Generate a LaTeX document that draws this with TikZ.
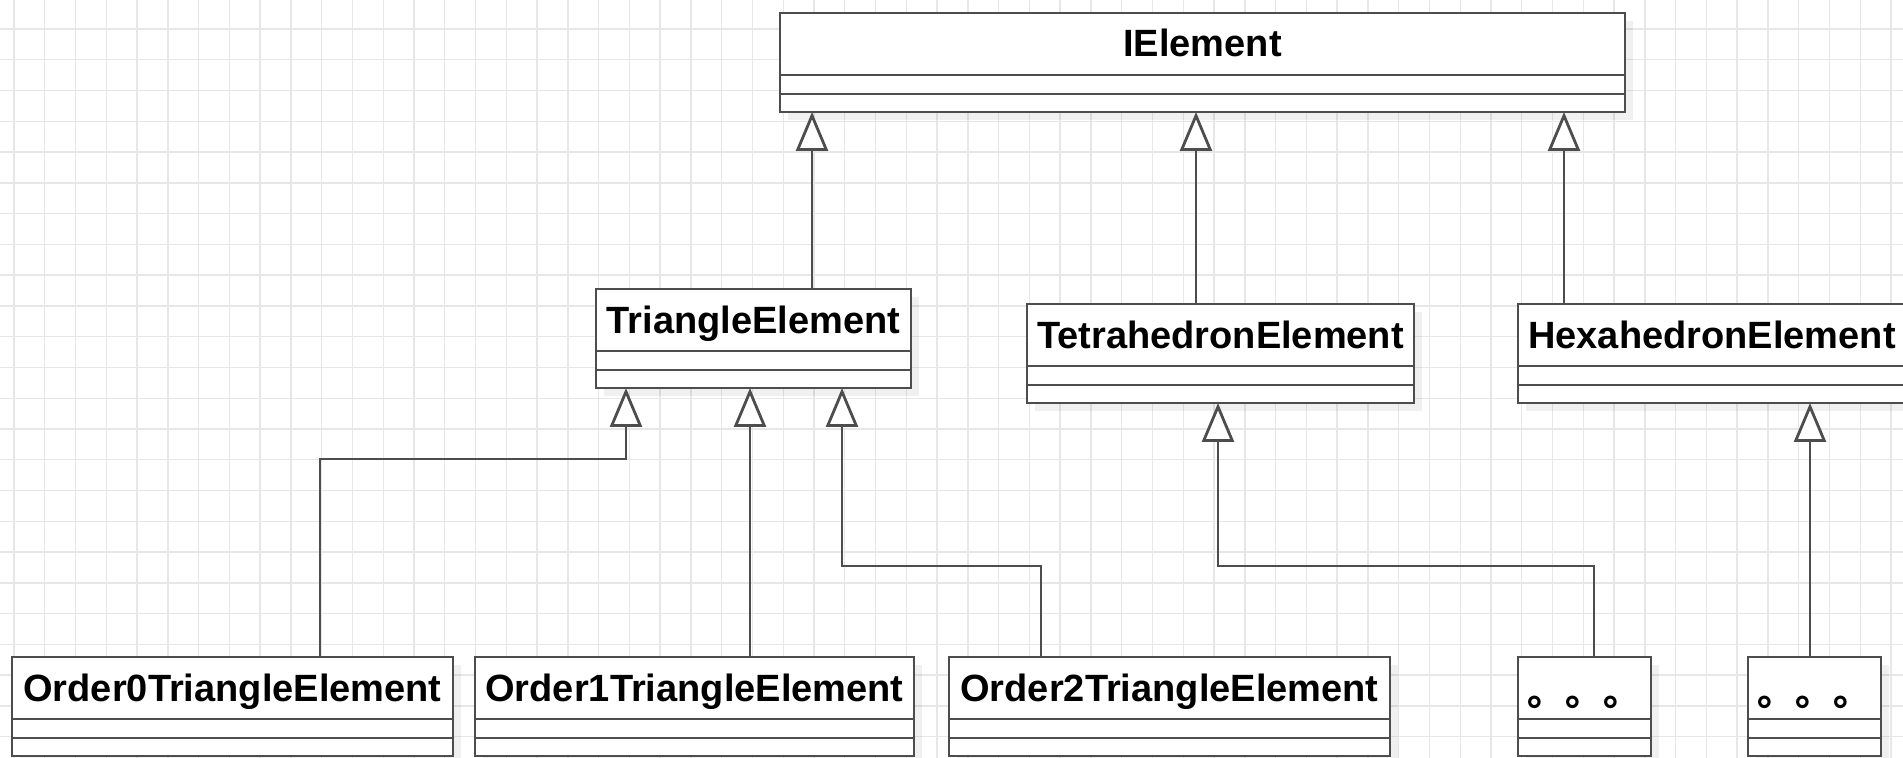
\documentclass[tikz,border=0pt]{standalone}
\usepackage{fontspec}
\setmainfont{Liberation Sans}
\newfontfamily\cjkfont{Noto Sans CJK SC}
\usetikzlibrary{arrows.meta,calc,shadows}
\definecolor{linec}{HTML}{4D4D4D}
\definecolor{gridc}{HTML}{E7E7E7}
\tikzset{
  cls/.style={draw=linec, line width=1.4pt, fill=white, minimum height=49.5pt,
    inner sep=0pt, outer sep=0pt, anchor=north west,
    drop shadow={shadow xshift=4pt, shadow yshift=-4pt, fill=black, opacity=0.06}},
  lab/.style={font=\bfseries\fontsize{19pt}{22pt}\selectfont, anchor=base, inner sep=0pt, text=black},
  dots/.style={font=\cjkfont\bfseries\fontsize{19pt}{22pt}\selectfont, anchor=base, inner sep=0pt, text=black},
  divl/.style={draw=linec, line width=1.4pt},
  inh/.style={draw=linec, line width=1.4pt, -{Triangle[open, fill=white, length=19.5pt, width=16pt]}},
  gridl/.style={draw=gridc, line width=0.7pt}
}
\newcommand\clsrules[1]{%
  \draw[divl] ($(#1.north west)+(0,62)$) -- ($(#1.north east)+(0,62)$);
  \draw[divl] ($(#1.north west)+(0,81)$) -- ($(#1.north east)+(0,81)$);}
\begin{document}
\begin{tikzpicture}[x=0.5pt, y=-0.5pt]
\useasboundingbox (0,0) rectangle (1903,758);
\clip (0,0) rectangle (1903,758);
\fill[white] (0,0) rectangle (1903,758);
% grid
\foreach \i in {0,...,61} \draw[gridl] ({14+30.77*\i},0) -- ({14+30.77*\i},758);
\foreach \j in {0,...,25} \draw[gridl] (0,{-1.77+30.77*\j}) -- (1903,{-1.77+30.77*\j});

% classes
\node[cls, minimum width=422.5pt] (ie) at (780,13) {};
\clsrules{ie}
\node[lab] (ieT) at ($(ie.north)+(0,44)$) {IElement};

\node[cls, minimum width=157.5pt] (tri) at (596,289) {};
\clsrules{tri}
\node[lab] (triT) at ($(tri.north)+(0,45)$) {TriangleElement};

\node[cls, minimum width=193.5pt] (tet) at (1027,304) {};
\clsrules{tet}
\node[lab] (tetT) at ($(tet.north)+(0,45)$) {TetrahedronElement};

\node[cls, minimum width=194pt] (hex) at (1518,304) {};
\clsrules{hex}
\node[lab] (hexT) at ($(hex.north)+(0,45)$) {HexahedronElement};

\node[cls, minimum width=220.5pt] (o0) at (12,657) {};
\clsrules{o0}
\node[lab] (o0T) at ($(o0.north)+(0,45)$) {Order0TriangleElement};

\node[cls, minimum width=219.5pt] (o1) at (475,657) {};
\clsrules{o1}
\node[lab] (o1T) at ($(o1.north)+(0,45)$) {Order1TriangleElement};

\node[cls, minimum width=220.5pt] (o2) at (949,657) {};
\clsrules{o2}
\node[lab] (o2T) at ($(o2.north)+(0,45)$) {Order2TriangleElement};

\node[cls, minimum width=66.5pt] (d1) at (1518,657) {};
\clsrules{d1}
\node[dots] (d1T) at ($(d1.north)+(0,49)$) {。。。};

\node[cls, minimum width=66.5pt] (d2) at (1748,657) {};
\clsrules{d2}
\node[dots] (d2T) at ($(d2.north)+(0,49)$) {。。。};

% connectors
\coordinate (t1) at ($(tri.north west)+(216,0)$);
\coordinate (t2) at ($(tet.north west)+(169,0)$);
\coordinate (t3) at ($(hex.north west)+(46,0)$);
\draw[inh] (t1) -- (t1 |- ie.south);
\draw[inh] (t2) -- (t2 |- ie.south);
\draw[inh] (t3) -- (t3 |- ie.south);

\coordinate (c0) at ($(o0.north west)+(308,0)$);
\coordinate (p0) at ($(tri.south west)+(30,0)$);
\draw[inh] (c0) -- ++(0,-198) -| (p0);

\coordinate (c1) at ($(o1.north west)+(275,0)$);
\draw[inh] (c1) -- (c1 |- tri.south);

\coordinate (c2) at ($(o2.north west)+(92,0)$);
\coordinate (p2) at ($(tri.south west)+(246,0)$);
\draw[inh] (c2) -- ++(0,-91) -| (p2);

\coordinate (c3) at ($(d1.north west)+(76,0)$);
\coordinate (p3) at ($(tet.south west)+(191,0)$);
\draw[inh] (c3) -- ++(0,-91) -| (p3);

\coordinate (c4) at ($(d2.north west)+(62,0)$);
\draw[inh] (c4) -- (c4 |- hex.south);
\end{tikzpicture}
\end{document}
